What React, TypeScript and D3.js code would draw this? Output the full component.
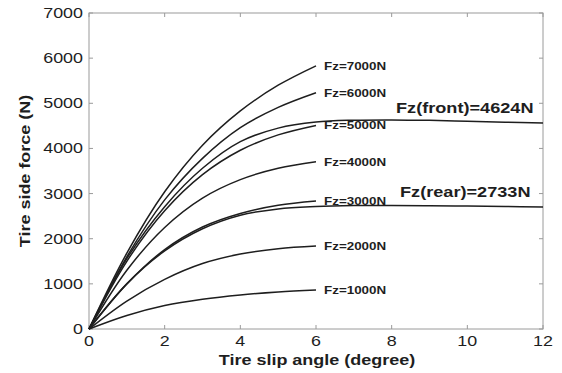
import React from 'react'
import * as d3 from 'd3'

// slip angles (degree) where the curves were read
const angles = [0, 1, 2, 3, 4, 5, 6]
const anglesLong = [0, 1, 2, 3, 4, 5, 6, 7, 8, 9, 10, 11, 12]

// side force (N) for each vertical load
const fz7000 = [0, 1680, 3040, 4070, 4830, 5400, 5830]
const fz6000 = [0, 1600, 2860, 3780, 4460, 4910, 5235]
const fz5000 = [0, 1500, 2620, 3420, 3960, 4300, 4510]
const fz4000 = [0, 1300, 2250, 2900, 3310, 3560, 3705]
const fz3000 = [0, 1000, 1760, 2260, 2560, 2740, 2835]
const fz2000 = [0, 620, 1100, 1450, 1660, 1780, 1840]
const fz1000 = [0, 300, 520, 660, 755, 820, 865]
const front = [0, 1560, 2710, 3560, 4150, 4450, 4585, 4625, 4632, 4622, 4602, 4582, 4565]
const rear = [0, 1000, 1730, 2220, 2520, 2660, 2712, 2734, 2738, 2732, 2722, 2712, 2705]

const loadLabels = ['Fz=7000N', 'Fz=6000N', 'Fz=5000N', 'Fz=4000N', 'Fz=3000N', 'Fz=2000N', 'Fz=1000N']
const loadSeries = [fz7000, fz6000, fz5000, fz4000, fz3000, fz2000, fz1000]
const xTicks = [0, 2, 4, 6, 8, 10, 12]
const yTicks = [0, 1000, 2000, 3000, 4000, 5000, 6000, 7000]

const W = 562
const H = 373
const left = 89
const right = 543
const top = 13
const bottom = 329
const font = 'Liberation Sans, Arial, Helvetica, sans-serif'
const ink = '#1e1e1e'
const frame = '#9a9a9a'

const x = d3.scaleLinear().domain([0, 12]).range([left, right])
const y = d3.scaleLinear().domain([0, 7000]).range([bottom, top])

const line = d3
  .line<[number, number]>()
  .x((d) => x(d[0]))
  .y((d) => y(d[1]))
  .curve(d3.curveCatmullRom.alpha(0.5))

const pts = (xs: number[], ys: number[]) => xs.map((a, i) => [a, ys[i]] as [number, number])

// stretched text, the reference glyphs are wider than Arial
const T = ({ tx, ty, size, bold, anchor, sx = 1.22, rot = 0, children }: any) => (
  <text
    transform={`translate(${tx},${ty}) rotate(${rot}) scale(${sx},1)`}
    fontFamily={font}
    fontSize={size}
    fontWeight={bold ? 'bold' : 'normal'}
    textAnchor={anchor || 'start'}
    fill={ink}
  >
    {children}
  </text>
)

export default function App() {
  return (
    <svg width={W} height={H} style={{ position: 'absolute', left: 0, top: 0, background: '#fff' }}>
      <rect x={0} y={0} width={W} height={H} fill="#fff" />

      {/* frame */}
      <rect x={left} y={top} width={right - left} height={bottom - top} fill="none" stroke={frame} strokeWidth={1} />

      {xTicks.map((t) => (
        <g key={'x' + t}>
          <line x1={x(t)} x2={x(t)} y1={bottom} y2={bottom - 4} stroke={frame} />
          <line x1={x(t)} x2={x(t)} y1={top} y2={top + 4} stroke={frame} />
          <T tx={x(t)} ty={346} size={14} anchor="middle" sx={1.28}>
            {t}
          </T>
        </g>
      ))}
      {yTicks.map((t) => (
        <g key={'y' + t}>
          <line x1={left} x2={left + 4} y1={y(t)} y2={y(t)} stroke={frame} />
          <line x1={right} x2={right - 4} y1={y(t)} y2={y(t)} stroke={frame} />
          <T tx={83} ty={y(t) + 5} size={14} anchor="end" sx={1.28}>
            {t}
          </T>
        </g>
      ))}

      {/* curves */}
      {loadSeries.map((s, i) => (
        <path key={'c' + i} d={line(pts(angles, s)) || ''} fill="none" stroke={ink} strokeWidth={1.5} />
      ))}
      <path d={line(pts(anglesLong, front)) || ''} fill="none" stroke={ink} strokeWidth={1.5} />
      <path d={line(pts(anglesLong, rear)) || ''} fill="none" stroke={ink} strokeWidth={1.5} />

      {loadSeries.map((s, i) => (
        <T key={'l' + i} tx={x(6) + 8} ty={y(s[s.length - 1]) + 4} size={11} bold>
          {loadLabels[i]}
        </T>
      ))}
      <T tx={396} ty={113} size={15.5} bold sx={1.17}>
        Fz(front)=4624N
      </T>
      <T tx={400} ty={197} size={15.5} bold sx={1.17}>
        Fz(rear)=2733N
      </T>

      {/* axis titles */}
      <T tx={(left + right) / 2 + 1} ty={365} size={15} bold anchor="middle" sx={1.2}>
        Tire slip angle (degree)
      </T>
      <T tx={30} ty={171} size={15} bold anchor="middle" sx={1.2} rot={-90}>
        Tire side force (N)
      </T>
    </svg>
  )
}
